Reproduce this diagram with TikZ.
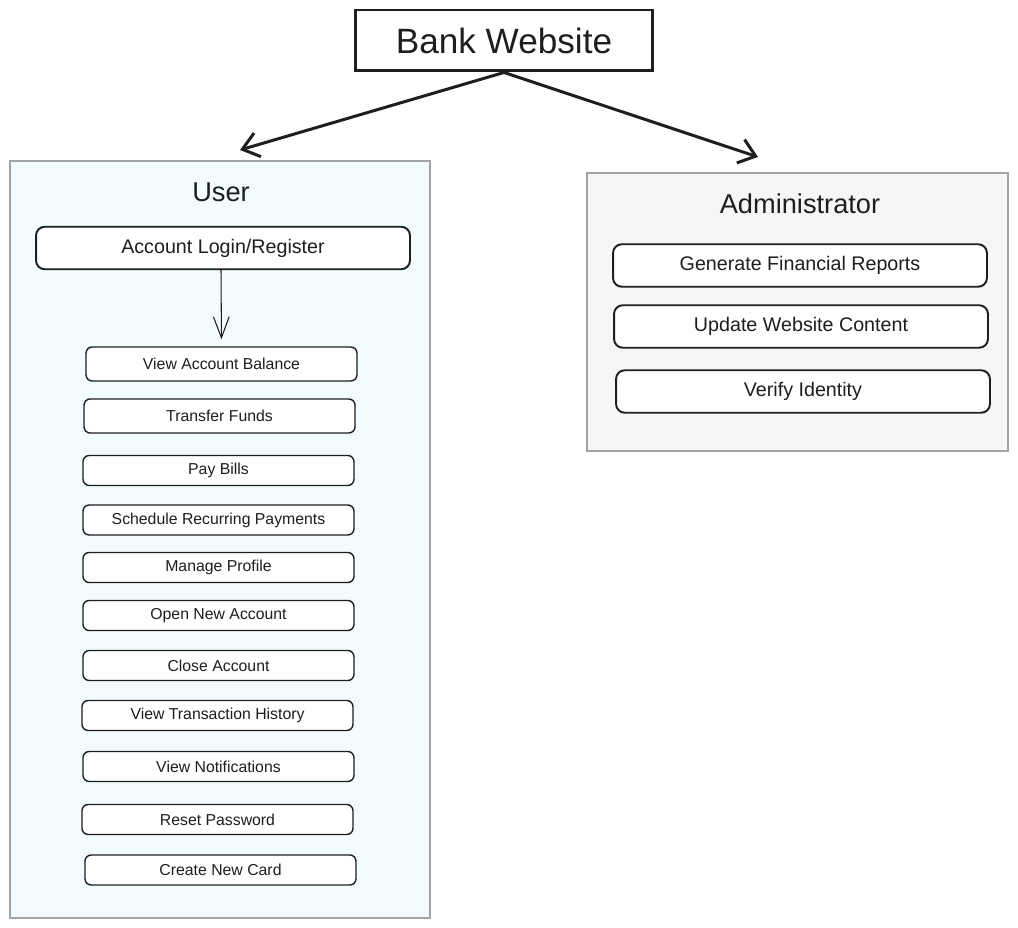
\documentclass[tikz,border=0pt]{standalone}
\usepackage{fontspec}
\setmainfont{Liberation Sans}
\usepackage{tikz}
\usetikzlibrary{arrows.meta}

\definecolor{userbg}{HTML}{F2FBFD}
\definecolor{adminbg}{HTML}{F5F6F8}
\definecolor{frame}{HTML}{A3A3A3}
\definecolor{ink}{HTML}{1E1E1E}

\tikzset{
	titlebox/.style={draw=ink, line width=1.7pt, minimum width=5.96cm, minimum height=1.22cm, inner sep=0pt, text=ink, font=\fontsize{20}{24}\selectfont},
	groupbox/.style={draw=frame, line width=1.6pt, inner sep=0pt},
	grouplabel/.style={text=ink, font=\fontsize{15.5}{18}\selectfont},
	bigitem/.style={draw=ink, line width=1.1pt, rounded corners=5pt, fill=white, minimum width=7.48cm, minimum height=0.85cm, inner sep=0pt, text=ink, font=\fontsize{11.2}{13}\selectfont},
	smallitem/.style={draw=ink, line width=0.8pt, rounded corners=3.5pt, fill=white, minimum width=5.42cm, minimum height=0.6cm, inner sep=0pt, text=ink, font=\fontsize{9}{11}\selectfont},
	mainarrow/.style={draw=ink, line width=1.7pt, -{Straight Barb[length=9pt,width=14pt]}},
	steparrow/.style={draw=ink, line width=0.6pt, -{Straight Barb[length=12pt,width=9pt]}, shorten >=4pt}
}

\begin{document}
\begin{tikzpicture}[x=0.02cm, y=-0.02cm]
	\useasboundingbox (0,0) rectangle (1018,928);

	\node[titlebox] (title) at (504,40.5) {Bank Website};

	% user side
	\node[groupbox, fill=userbg, minimum width=8.4cm, minimum height=15.14cm] (user) at (220,539.5) {};
	\node[grouplabel] (userlbl) at (221,192) {User};
	\node[bigitem] (login) at (223,248) {Account Login/Register};

	\node[smallitem, minimum height=0.68cm] (vab) at (221.5,364) {View Account Balance};
	\node[smallitem, minimum height=0.68cm] (tf) at (219.5,416) {Transfer Funds};
	\node[smallitem] (pb) at (218.5,470.5) {Pay Bills};
	\node[smallitem] (srp) at (218.5,520) {Schedule Recurring Payments};
	\node[smallitem] (mp) at (218.5,567.5) {Manage Profile};
	\node[smallitem] (ona) at (218.5,615.5) {Open New Account};
	\node[smallitem] (ca) at (218.5,665.5) {Close Account};
	\node[smallitem] (vth) at (217.5,715.5) {View Transaction History};
	\node[smallitem] (vn) at (218.5,766.5) {View Notifications};
	\node[smallitem] (rp) at (217.5,819.5) {Reset Password};
	\node[smallitem] (cnc) at (220.5,870) {Create New Card};

	% admin side
	\node[groupbox, fill=adminbg, minimum width=8.42cm, minimum height=5.56cm] (admin) at (797.5,312) {};
	\node[grouplabel] (adminlbl) at (800,204) {Administrator};
	\node[bigitem] (gfr) at (800,265.5) {Generate Financial Reports};
	\node[bigitem] (uwc) at (801,326.5) {Update Website Content};
	\node[bigitem] (vi) at (803,391.5) {Verify Identity};

	\coordinate (usertip) at (240,150);
	\coordinate (admintip) at (758,157);

	\draw[mainarrow] (title.south) -- (usertip);
	\draw[mainarrow] (title.south) -- (admintip);
	\draw[steparrow] (221,269) -- (vab.north);
\end{tikzpicture}
\end{document}
